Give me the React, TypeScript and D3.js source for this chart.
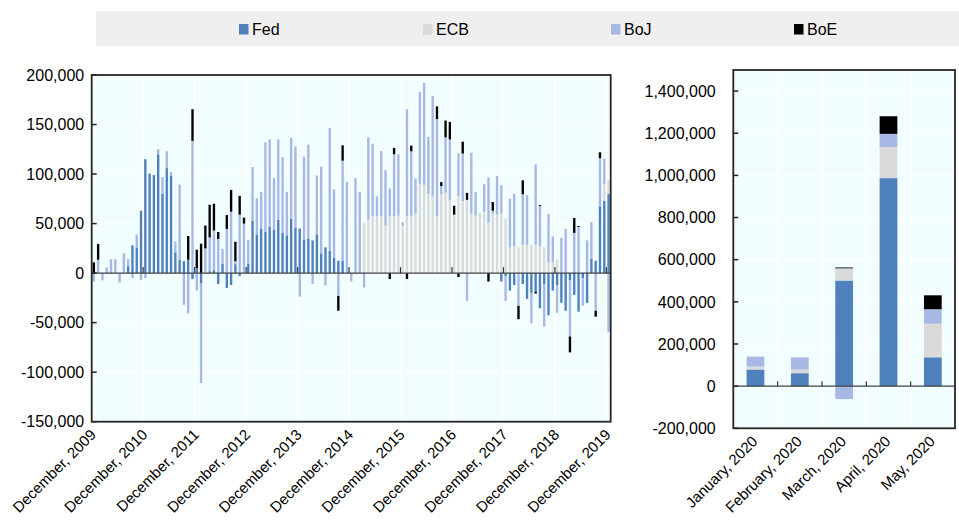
import React from "react";
import * as d3 from "d3";

const SERIES = ["Fed", "ECB", "BoJ", "BoE"];
const COLORS = ["#4f81bd", "#dadada", "#a7b8e4", "#000000"];

// Left panel: monthly, December 2009 – December 2019 (values in thousands)
const leftMonths: string[] = d3
  .timeMonth.range(new Date(2009, 11, 1), new Date(2020, 0, 1))
  .map((d) => d3.timeFormat("%B, %Y")(d));

const leftTickLabels = [
  "December, 2009", "December, 2010", "December, 2011", "December, 2012",
  "December, 2013", "December, 2014", "December, 2015", "December, 2016",
  "December, 2017", "December, 2018", "December, 2019",
];

const fedK = [
  0, 0, 0, 0, 0, 0, 0, 0, 7, 28, 26, 63,
  115, 100, 99, 120, 80, 106, 98, 21, 13.5, 12, 13.5, -6,
  5, -10, 0, 2, 3, -11, 9.5, -15, -12, 9, -3, 0,
  9.5, 53, 39, 45, 41.5, 47, 44, 54, 41, 38, 55, 46,
  45, 34, 35, 33, 39, 20, 26, 22.6, 15.5, 12.5, 12.5, 0,
  0, 0, 0, 0, 0, 0, 0, 0, 0, 0, 0, 0,
  0, 0, 0, 0, 0, 0, 0, 0, 0, 0, 0, 0,
  0, 0, 0, 0, 0, 0, 0, 0, 0, 0, 0, -8.5,
  -3, -17.6, -12, 0, -11, -26, -20, -18.6, -35.5, -11, -42.6, -17.6,
  -12, -30, -38, -7, -22, -39, -5, -30, 14.5, 12.5, 67.5, 73,
  80,
];
const ecbK = [
  0, 0, 0, 0, 0, 0, 0, 0, 0, 0, 0, 0,
  0, 0, 0, 0, 0, 0, 0, 0, 0, 0, 0, 0,
  0, 0, 0, 0, 0, 0, 0, 0, 0, 0, 0, 0,
  0, 0, 0, 0, 0, 0, 0, 0, 0, 0, 0, 0,
  0, 0, 0, 0, 0, 0, 0, 0, 0, 0, 0, 0,
  0, 0, 0, 50.7, 54, 57.5, 57.5, 57.5, 48, 57.5, 57.5, 58,
  48, 57.5, 58, 60, 90, 89, 80, 78, 57.5, 79.4, 81, 74,
  59, 78, 72.7, 74, 60, 58, 61, 62, 51, 60, 59, 60,
  55, 26, 27, 26, 28.7, 28.7, 28.7, 28.7, 27, 26, 10.8, 11,
  14, 0, 0, 0, 0, 0, 0, 0, 0, 0, 0, 16.6,
  14,
];
const bojK = [
  -8.5, 13.5, -7.4, 5.7, 14, 14, -9.5, 20, 7, -5, 13, -7,
  -5, 1, 0, 5, 17, 17, 4, 11, 76, -32, -40.5, 133.5,
  -17.6, -101, 25, 34, 40, 34.5, 15, 44.6, 62, 3, 59, 50,
  24, 54, 36.5, 37, 90.5, 88, 52, 81, 76, 44, 81.5, 82,
  -23.7, 83.5, 94.6, -11, 59.5, 87.5, -12.5, 124, 69, -23, 101, 92,
  -8.5, 96, 82, -14.5, 83, 73, 20, 65.6, 56, 28, 62.5, 62,
  3.4, 108, 65, 35.5, 93, 103, 57.5, 101, 98, 8.5, 56, 61,
  0, 43, 48, -28, 61.5, 23.7, 0, 27.7, 45.6, 3, 39, 28.7,
  -25, 49, 53, -33, 51, 50, -30.7, 81, 40.6, -43, 49, 26,
  -28, 35.5, 44.6, -57, 40.6, 46.6, -28, 33, 37, -38, 48.5, 26,
  -59.5,
];
const boeK = [
  10.8, 16, 0, 0, 0, 0, 0, 0, 0, 0, 0, 0,
  0, 0, 0, 0, 0, 0, 0, 0, 0, 0, 24, 32,
  18.6, 29.7, 23, 33, 27, 7, 0, 14, 22, 19.6, 19, 6,
  0, 0, 0, 0, 0, 0, 0, 0, 0, 0, 0, 0,
  0, 0, 0, 0, 0, 0, 0, 0, 0, -15, 15.5, 0,
  0, 0, 0, 0, 0, 0, 0, 0, 0, -6, 6.4, 0,
  0, -6, 5.7, 0, 0, 0, 0, 0, 12.8, 4, 17, 17.6,
  9, -4, 12, 7, 0, 0, 0, 0, -8.5, 8.8, 0, 0,
  0, 0, 0, -13.5, 14, 0, 0, -2, 1, 0, 0, 0,
  0, 0, 0, -16, 15, 1, 0, 0, 0, -6, 6, 0,
  0,
];
const UNIT = 1000;

// Right panel: January – May 2020
const rightMonths = ["January, 2020", "February, 2020", "March, 2020", "April, 2020", "May, 2020"];
const fed2020 = [79000, 61500, 501000, 987000, 137000];
const ecb2020 = [14000, 17000, 58000, 147000, 159000];
const boj2020 = [47000, 58000, -61500, 63000, 69000];
const boe2020 = [0, 0, 4000, 83500, 66000];

const leftTicks = [-150000, -100000, -50000, 0, 50000, 100000, 150000, 200000];
const rightTicks = [-200000, 0, 200000, 400000, 600000, 800000, 1000000, 1200000, 1400000];

const FONT = "'Liberation Sans', Arial, sans-serif";
const fmt = d3
  .formatLocale({ decimal: ".", thousands: ",", grouping: [3], currency: ["", ""], minus: "-" })
  .format(",");

type Panel = {
  key: string;
  cats: string[];
  rows: any[];
  box: { x0: number; x1: number; y0: number; y1: number };
  domain: [number, number];
  ticks: number[];
  labelGap: number;
  pad: number;
  every: number;
  labels: (i: number) => string | null;
  tickLen: number;
};

function PanelView({ p }: { p: Panel }) {
  const { box } = p;
  const x = d3
    .scaleBand<string>()
    .domain(p.cats)
    .range([box.x0, box.x1])
    .paddingInner(p.pad)
    .paddingOuter(p.pad / 2);
  const y = d3.scaleLinear().domain(p.domain).range([box.y1, box.y0]);
  const stacked = d3.stack<any>().keys(SERIES).offset(d3.stackOffsetDiverging)(p.rows);
  const step = x.step();
  const bounds: number[] = [];
  for (let k = p.every; k < p.cats.length; k += p.every) bounds.push(box.x0 + k * step);
  const y0 = y(0);
  return (
    <g>
      <rect x={box.x0} y={box.y0} width={box.x1 - box.x0} height={box.y1 - box.y0} fill="#f2fdff" />
      {p.ticks.map((t) => (
        <line key={"hg" + t} x1={box.x0} x2={box.x1} y1={y(t)} y2={y(t)} stroke="#ffffff" strokeWidth={1} />
      ))}
      {bounds.map((b) => (
        <line key={"vg" + b} x1={b} x2={b} y1={box.y0} y2={box.y1} stroke="#ffffff" strokeWidth={1.5} />
      ))}
      {stacked.map((s, si) => (
        <g key={s.key} fill={COLORS[si]}>
          {s.map((d, i) => {
            const top = Math.max(d[0], d[1]);
            const bot = Math.min(d[0], d[1]);
            if (top === bot) return null;
            return (
              <rect
                key={i}
                x={x(p.cats[i])}
                width={x.bandwidth()}
                y={y(top)}
                height={y(bot) - y(top)}
              />
            );
          })}
        </g>
      ))}
      <line x1={box.x0} x2={box.x1} y1={y0} y2={y0} stroke="#404040" strokeWidth={1.2} />
      {bounds.map((b) => (
        <line key={"xt" + b} x1={b} x2={b} y1={y0} y2={y0 - p.tickLen} stroke="#333" strokeWidth={1.2} />
      ))}
      <rect
        x={box.x0}
        y={box.y0}
        width={box.x1 - box.x0}
        height={box.y1 - box.y0}
        fill="none"
        stroke="#262626"
        strokeWidth={1.8}
      />
      {p.ticks.map((t) => (
        <g key={"yt" + t}>
          <line x1={box.x0} x2={box.x0 + 5} y1={y(t)} y2={y(t)} stroke="#262626" strokeWidth={1.5} />
          <text x={box.x0 - p.labelGap} y={y(t)} dy="0.36em" textAnchor="end" fontSize={16} fontFamily={FONT} fill="#000">
            {fmt(t)}
          </text>
        </g>
      ))}
      {p.cats.map((c, i) => {
        const lab = p.labels(i);
        if (!lab) return null;
        const cx = (x(c) as number) + x.bandwidth() / 2;
        return (
          <text
            key={"xl" + i}
            transform={`translate(${cx + 3},${box.y1 + 14}) rotate(-45)`}
            textAnchor="end"
            fontSize={15}
            fontFamily={FONT}
            fill="#000"
          >
            {lab}
          </text>
        );
      })}
    </g>
  );
}

export default function App() {
  const leftRows = leftMonths.map((m, i) => ({
    month: m,
    Fed: fedK[i] * UNIT,
    ECB: ecbK[i] * UNIT,
    BoJ: bojK[i] * UNIT,
    BoE: boeK[i] * UNIT,
  }));
  const rightRows = rightMonths.map((m, i) => ({
    month: m,
    Fed: fed2020[i],
    ECB: ecb2020[i],
    BoJ: boj2020[i],
    BoE: boe2020[i],
  }));
  const panels: Panel[] = [
    {
      key: "left",
      cats: leftMonths,
      rows: leftRows,
      box: { x0: 91.7, x1: 610.7, y0: 75, y1: 421.7 },
      domain: [-150000, 200000],
      ticks: leftTicks,
      labelGap: 7.5,
      pad: 0.45,
      every: 12,
      labels: (i) => (i % 12 === 0 ? leftTickLabels[i / 12] : null),
      tickLen: 6,
    },
    {
      key: "right",
      cats: rightMonths,
      rows: rightRows,
      box: { x0: 733.3, x1: 955, y0: 70, y1: 428.3 },
      domain: [-200000, 1500000],
      ticks: rightTicks,
      labelGap: 17.6,
      pad: 0.6,
      every: 1,
      labels: (i) => rightMonths[i],
      tickLen: 5,
    },
  ];
  const legendX = [239, 423, 611, 794];
  return (
    <div style={{ position: "absolute", left: 0, top: 0 }}>
      <svg width={959} height={520} style={{ display: "block", background: "#fff" }}>
        <rect x={96} y={11} width={863} height={35} fill="#efefef" />
        {SERIES.map((s, i) => (
          <g key={s}>
            <rect x={legendX[i]} y={24} width={9.5} height={10.5} fill={COLORS[i]} />
            <text x={legendX[i] + 13} y={34.5} fontSize={16} fontFamily={FONT} fill="#000">
              {s}
            </text>
          </g>
        ))}
        {panels.map((p) => (
          <PanelView key={p.key} p={p} />
        ))}
      </svg>
    </div>
  );
}
